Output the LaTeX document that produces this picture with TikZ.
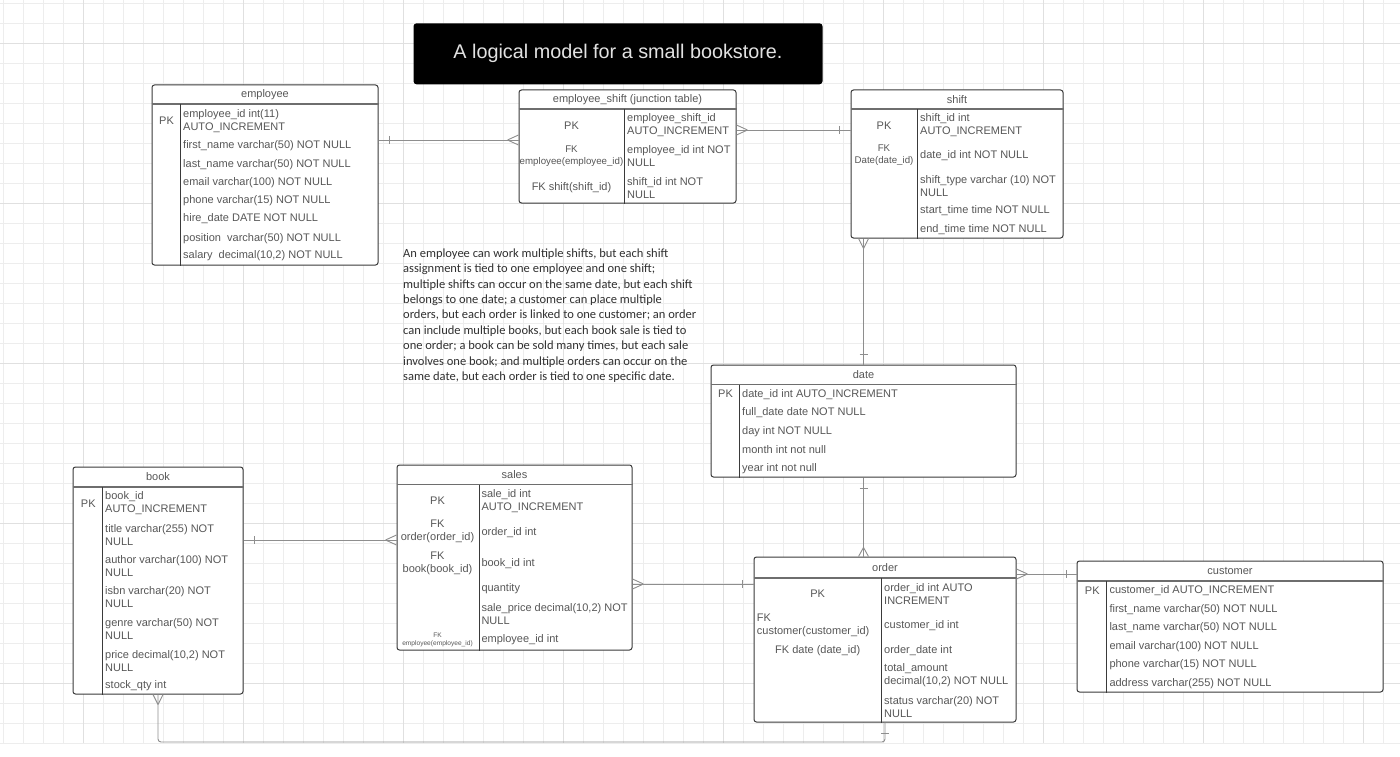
\documentclass[tikz,border=0pt]{standalone}
\usepackage{fontspec}
\setmainfont{Liberation Sans}
\newfontfamily\notefont{Carlito}
\usetikzlibrary{positioning}

\definecolor{boxline}{HTML}{3A3A3A}
\definecolor{rulegray}{HTML}{6E6E6E}
\definecolor{linkgray}{HTML}{8E8E8E}
\definecolor{txtgray}{HTML}{575757}
\definecolor{notegray}{HTML}{303030}
\definecolor{titlegray}{HTML}{E2E2E2}
\definecolor{gridminor}{HTML}{EDEDED}
\definecolor{gridmajor}{HTML}{E0E0E0}

\begin{document}
\begin{tikzpicture}[x=1pt, y=-1pt,
    tablebox/.style={draw=boxline, line width=1pt, rounded corners=2.5pt, fill=white, inner sep=0pt},
    headtext/.style={font=\fontsize{11}{13}\selectfont, text=txtgray, inner sep=0pt, yshift=-1pt},
    keytext/.style={font=\fontsize{11}{13}\selectfont, text=txtgray, inner sep=0pt, align=center, yshift=-1.5pt},
    smallkey/.style={keytext, font=\fontsize{9.7}{12.7}\selectfont},
    tinykey/.style={keytext, font=\fontsize{6.6}{8.4}\selectfont},
    field/.style={font=\fontsize{11}{13}\selectfont, text=txtgray, inner sep=0pt, anchor=west, align=left, yshift=-1.5pt},
    headrule/.style={draw=rulegray, line width=1.8pt},
    colrule/.style={draw=boxline, line width=1pt},
    link/.style={draw=linkgray, line width=0.9pt},
    titlebox/.style={fill=black, rounded corners=3pt, minimum width=409pt, minimum height=61pt, text=titlegray, font=\fontsize{19.8}{24}\selectfont},
    notetext/.style={font=\notefont\fontsize{12.5}{15.4}\selectfont, text=notegray, align=left, inner sep=0pt}]

    % background grid
    \useasboundingbox (0,0) rectangle (1400,757);
    \fill[white] (0,0) rectangle (1400,757);
    \foreach \gx in {3,23,...,1399} \draw[gridminor] (\gx,0) -- (\gx,743);
    \foreach \gy in {3,23,...,743} \draw[gridminor] (0,\gy) -- (1400,\gy);
    \foreach \gx in {83,243,...,1399} \draw[gridmajor] (\gx,0) -- (\gx,743);
    \foreach \gy in {43,203,...,743} \draw[gridmajor] (0,\gy) -- (1400,\gy);

    % title
    \node (title) [titlebox] at (618,53.8) {A logical model for a small bookstore.};

    % employee table
    \node (employee) [tablebox, minimum width=226pt, minimum height=180pt] at (265,175) {};
    \node (employee-h) [headtext] at (265,94) {employee};
    \draw[headrule] (employee.west |- 0,104) -- (employee.east |- 0,104);
    \draw[colrule] (180.5,104) -- (employee.south -| 180.5,0);
    \node (emp0) [keytext] at (166.5,119.5) {PK};
    \node (emp1) [field] at (183,119.5) {employee\_id int(11)\\AUTO\_INCREMENT};
    \node (emp2) [field] at (183,144) {first\_name varchar(50) NOT NULL};
    \node (emp3) [field] at (183,162.7) {last\_name varchar(50) NOT NULL};
    \node (emp4) [field] at (183,180.7) {email varchar(100) NOT NULL};
    \node (emp5) [field] at (183,199.3) {phone varchar(15) NOT NULL};
    \node (emp6) [field] at (183,217.3) {hire\_date DATE NOT NULL};
    \node (emp7) [field] at (183,236.7) {position\ \ varchar(50) NOT NULL};
    \node (emp8) [field] at (183,254.3) {salary\ \ decimal(10,2) NOT NULL};

    % employee_shift table
    \node (empshift) [tablebox, minimum width=217pt, minimum height=113pt] at (627.5,146.5) {};
    \node (empshift-h) [headtext] at (627.5,98.5) {employee\_shift (junction table)};
    \draw[headrule] (empshift.west |- 0,109) -- (empshift.east |- 0,109);
    \draw[colrule] (624.5,109) -- (empshift.south -| 624.5,0);
    \node (es0) [keytext] at (571.5,124) {PK};
    \node (es1) [smallkey] at (571.5,154.8) {FK\\employee(employee\_id)};
    \node (es2) [keytext] at (571.5,186.5) {FK shift(shift\_id)};
    \node (es3) [field] at (627,123.7) {employee\_shift\_id\\AUTO\_INCREMENT};
    \node (es4) [field] at (627,155) {employee\_id int NOT\\NULL};
    \node (es5) [field] at (627,186.3) {shift\_id int NOT\\NULL};

    % shift table
    \node (shift) [tablebox, minimum width=212pt, minimum height=148pt] at (957,164) {};
    \node (shift-h) [headtext] at (957,98.5) {shift};
    \draw[headrule] (shift.west |- 0,109) -- (shift.east |- 0,109);
    \draw[colrule] (917.5,109) -- (shift.south -| 917.5,0);
    \node (sh0) [keytext] at (884,124) {PK};
    \node (sh1) [smallkey] at (884,153.7) {FK\\Date(date\_id)};
    \node (sh2) [field] at (920,123.7) {shift\_id int\\AUTO\_INCREMENT};
    \node (sh3) [field] at (920,154.3) {date\_id int NOT NULL};
    \node (sh4) [field] at (920,184.7) {shift\_type varchar (10) NOT\\NULL};
    \node (sh5) [field] at (920,209) {start\_time time NOT NULL};
    \node (sh6) [field] at (920,228.3) {end\_time time NOT NULL};

    % date table
    \node (date) [tablebox, minimum width=305pt, minimum height=112pt] at (863.5,421) {};
    \node (date-h) [headtext] at (863.5,373.5) {date};
    \draw[headrule] (date.west |- 0,384.5) -- (date.east |- 0,384.5);
    \draw[colrule] (739.5,384.5) -- (date.south -| 739.5,0);
    \node (dt0) [keytext] at (725.5,392.7) {PK};
    \node (dt1) [field] at (742,392.7) {date\_id int AUTO\_INCREMENT};
    \node (dt2) [field] at (742,411) {full\_date date NOT NULL};
    \node (dt3) [field] at (742,429.7) {day int NOT NULL};
    \node (dt4) [field] at (742,448.3) {month int not null};
    \node (dt5) [field] at (742,466.7) {year int not null};

    % book table
    \node (book) [tablebox, minimum width=170pt, minimum height=227pt] at (158,580.5) {};
    \node (book-h) [headtext] at (158,475.7) {book};
    \draw[headrule] (book.west |- 0,487) -- (book.east |- 0,487);
    \draw[colrule] (102.5,487) -- (book.south -| 102.5,0);
    \node (bk0) [keytext] at (88.3,502.3) {PK};
    \node (bk1) [field] at (105,501.7) {book\_id\\AUTO\_INCREMENT};
    \node (bk2) [field] at (105,533.3) {title varchar(255) NOT\\NULL};
    \node (bk3) [field] at (105,565) {author varchar(100) NOT\\NULL};
    \node (bk4) [field] at (105,596) {isbn varchar(20) NOT\\NULL};
    \node (bk5) [field] at (105,628) {genre varchar(50) NOT\\NULL};
    \node (bk6) [field] at (105,659.3) {price decimal(10,2) NOT\\NULL};
    \node (bk7) [field] at (105,684) {stock\_qty int};

    % sales table
    \node (sales) [tablebox, minimum width=235pt, minimum height=185pt] at (514.5,557.5) {};
    \node (sales-h) [headtext] at (514.5,473.5) {sales};
    \draw[headrule] (sales.west |- 0,484.5) -- (sales.east |- 0,484.5);
    \draw[colrule] (479,484.5) -- (sales.south -| 479,0);
    \node (sl0) [keytext] at (437.5,499.3) {PK};
    \node (sl1) [keytext] at (437.5,530.3) {FK\\order(order\_id)};
    \node (sl2) [keytext] at (437.5,562.3) {FK\\book(book\_id)};
    \node (sl3) [tinykey] at (437.5,638.5) {FK\\employee(employee\_id)};
    \node (sl4) [field] at (481.3,499.3) {sale\_id int\\AUTO\_INCREMENT};
    \node (sl5) [field] at (481.3,530.7) {order\_id int};
    \node (sl6) [field] at (481.3,562.3) {book\_id int};
    \node (sl7) [field] at (481.3,587.3) {quantity};
    \node (sl8) [field] at (481.3,612.3) {sale\_price decimal(10,2) NOT\\NULL};
    \node (sl9) [field] at (481.3,638.3) {employee\_id int};

    % order table
    \node (order) [tablebox, minimum width=262pt, minimum height=165pt] at (885,639.5) {};
    \node (order-h) [headtext] at (885,566.3) {order};
    \draw[headrule] (order.west |- 0,578) -- (order.east |- 0,578);
    \draw[colrule] (881,578) -- (order.south -| 881,0);
    \node (od0) [keytext] at (817.7,592.3) {PK};
    \node (od1) [field] at (756.7,623.7) {FK\\customer(customer\_id)};
    \node (od2) [keytext] at (817.7,649) {FK date (date\_id)};
    \node (od3) [field] at (884,592.3) {order\_id int AUTO\\INCREMENT};
    \node (od4) [field] at (884,624) {customer\_id int};
    \node (od5) [field] at (884,649) {order\_date int};
    \node (od6) [field] at (884,673.7) {total\_amount\\decimal(10,2) NOT NULL};
    \node (od7) [field] at (884,705.3) {status varchar(20) NOT\\NULL};

    % customer table
    \node (customer) [tablebox, minimum width=306pt, minimum height=131pt] at (1230,626.5) {};
    \node (customer-h) [headtext] at (1230,570) {customer};
    \draw[headrule] (customer.west |- 0,581) -- (customer.east |- 0,581);
    \draw[colrule] (1106,581) -- (customer.south -| 1106,0);
    \node (cu0) [keytext] at (1092.3,589) {PK};
    \node (cu1) [field] at (1109.3,589) {customer\_id AUTO\_INCREMENT};
    \node (cu2) [field] at (1109.3,607.7) {first\_name varchar(50) NOT NULL};
    \node (cu3) [field] at (1109.3,626) {last\_name varchar(50) NOT NULL};
    \node (cu4) [field] at (1109.3,645) {email varchar(100) NOT NULL};
    \node (cu5) [field] at (1109.3,663.3) {phone varchar(15) NOT NULL};
    \node (cu6) [field] at (1109.3,681.7) {address varchar(255) NOT NULL};

    % note text
    \node (note) [notetext, anchor=north west] at (403,248.5) {An employee can work multiple shifts, but each shift\\
        assignment is tied to one employee and one shift;\\
        multiple shifts can occur on the same date, but each shift\\
        belongs to one date; a customer can place multiple\\
        orders, but each order is linked to one customer; an order\\
        can include multiple books, but each book sale is tied to\\
        one order; a book can be sold many times, but each sale\\
        involves one book; and multiple orders can occur on the\\
        same date, but each order is tied to one specific date.};

    % employee -- employee_shift
    \coordinate (l1a) at (employee.east |- 0,140);
    \coordinate (l1b) at (empshift.west |- 0,140);
    \draw[link] (l1a) -- (l1b);
    \draw[link] ([xshift=11pt]l1a) ++(0,-4) -- ++(0,8);
    \draw[link] ([xshift=-11pt]l1b) -- ++(11,-5) ([xshift=-11pt]l1b) -- ++(11,5);

    % employee_shift -- shift
    \coordinate (l2a) at (empshift.east |- 0,130);
    \coordinate (l2b) at (shift.west |- 0,130);
    \draw[link] (l2a) -- (l2b);
    \draw[link] ([xshift=11pt]l2a) -- ++(-11,-5) ([xshift=11pt]l2a) -- ++(-11,5);
    \draw[link] ([xshift=-11pt]l2b) ++(0,-4) -- ++(0,8);

    % shift -- date
    \coordinate (l3a) at (date.north |- shift.south);
    \draw[link] (l3a) -- (date.north);
    \draw[link] ([yshift=-10pt]l3a) -- ++(-5,-10) ([yshift=-10pt]l3a) -- ++(5,-10);
    \draw[link] ([yshift=10pt]date.north) ++(-4,0) -- ++(8,0);

    % date -- order
    \coordinate (l4b) at (order.north -| date.south);
    \draw[link] (date.south) -- (l4b);
    \draw[link] ([yshift=-11pt]date.south) ++(-4,0) -- ++(8,0);
    \draw[link] ([yshift=9pt]l4b) -- ++(-5,9) ([yshift=9pt]l4b) -- ++(5,9);

    % book -- sales
    \coordinate (l5a) at (book.east |- 0,540);
    \coordinate (l5b) at (sales.west |- 0,540);
    \draw[link] (l5a) -- (l5b);
    \draw[link] ([xshift=11pt]l5a) ++(0,-4) -- ++(0,8);
    \draw[link] ([xshift=-11pt]l5b) -- ++(11,-5) ([xshift=-11pt]l5b) -- ++(11,5);

    % sales -- order
    \coordinate (l6a) at (sales.east |- 0,584);
    \coordinate (l6b) at (order.west |- 0,584);
    \draw[link] (l6a) -- (l6b);
    \draw[link] ([xshift=11pt]l6a) -- ++(-11,-5) ([xshift=11pt]l6a) -- ++(-11,5);
    \draw[link] ([xshift=-11pt]l6b) ++(0,-4) -- ++(0,8);

    % order -- customer
    \coordinate (l7a) at (order.east |- 0,574);
    \coordinate (l7b) at (customer.west |- 0,574);
    \draw[link] (l7a) -- (l7b);
    \draw[link] ([xshift=11pt]l7a) -- ++(-11,-5) ([xshift=11pt]l7a) -- ++(-11,5);
    \draw[link] ([xshift=-10pt]l7b) ++(0,-4) -- ++(0,8);

    % book -- order, along the bottom
    \coordinate (l8) at (book.south |- 0,742);
    \draw[link, rounded corners=3pt] (book.south) -- (l8) -| (order.south);
    \draw[link] ([yshift=-10pt]book.south) -- ++(-5,-10) ([yshift=-10pt]book.south) -- ++(5,-10);
    \draw[link] ([yshift=-11pt]order.south) ++(-4,0) -- ++(8,0);

\end{tikzpicture}
\end{document}
